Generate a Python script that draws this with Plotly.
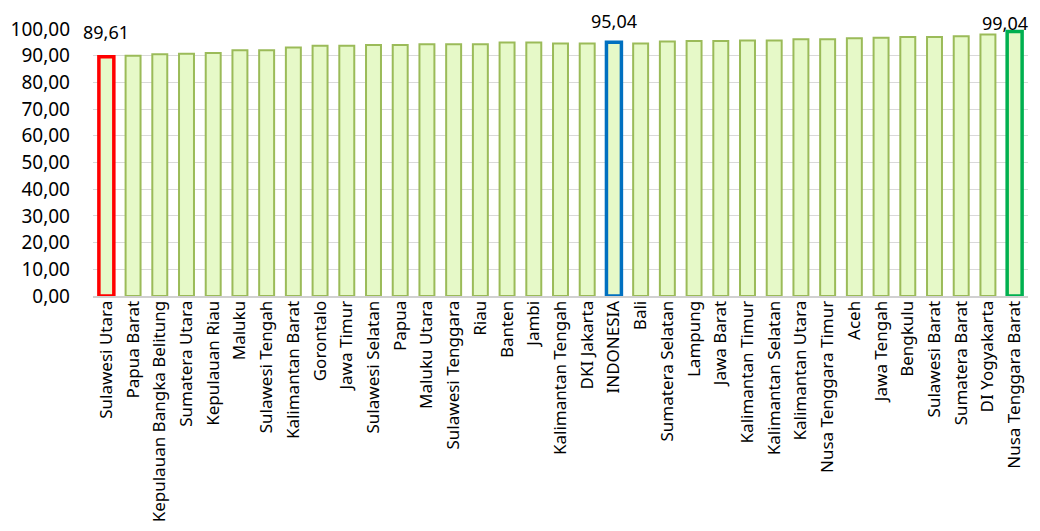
import plotly.graph_objects as go

# --- data ---
provinces = [
    "Sulawesi Utara", "Papua Barat", "Kepulauan Bangka Belitung", "Sumatera Utara",
    "Kepulauan Riau", "Maluku", "Sulawesi Tengah", "Kalimantan Barat", "Gorontalo",
    "Jawa Timur", "Sulawesi Selatan", "Papua", "Maluku Utara", "Sulawesi Tenggara",
    "Riau", "Banten", "Jambi", "Kalimantan Tengah", "DKI Jakarta", "INDONESIA",
    "Bali", "Sumatera Selatan", "Lampung", "Jawa Barat", "Kalimantan Timur",
    "Kalimantan Selatan", "Kalimantan Utara", "Nusa Tenggara Timur", "Aceh",
    "Jawa Tengah", "Bengkulu", "Sulawesi Barat", "Sumatera Barat", "DI Yogyakarta",
    "Nusa Tenggara Barat",
]
values = [
    89.61, 90.0, 90.5, 90.7, 91.0, 92.0, 92.0, 93.1, 93.7,
    93.7, 94.0, 94.0, 94.3, 94.3, 94.3, 94.9, 94.9, 94.6, 94.6, 95.04,
    94.6, 95.3, 95.5, 95.5, 95.7, 95.7, 96.2, 96.2, 96.5,
    96.7, 97.0, 97.0, 97.3, 97.9, 99.04,
]
y_ticks = [0, 10, 20, 30, 40, 50, 60, 70, 80, 90, 100]

# highlighted bars: lowest, national figure, highest -> (outline colour, label lift, label nudge)
highlight = {
    "Sulawesi Utara": ("#ff0000", 11, 0),
    "INDONESIA": ("#0070c0", 7, 0),
    "Nusa Tenggara Barat": ("#00b050", -5, -10),
}

line_colors = [highlight[p][0] if p in highlight else "#9bbb59" for p in provinces]
line_widths = [3.5 if p in highlight else 2 for p in provinces]

fig = go.Figure()
fig.add_trace(go.Bar(
    x=provinces, y=values,
    marker=dict(color="#e6f9c8", line=dict(color=line_colors, width=line_widths)),
    width=0.56,
))

for p, v in zip(provinces, values):
    if p in highlight:
        fig.add_annotation(
            x=p, y=v, text=f"{v:.2f}".replace(".", ","), showarrow=False,
            yanchor="bottom", yshift=highlight[p][1], xshift=highlight[p][2],
            font=dict(size=18, color="#000000"),
        )

# the page body adds an 8px offset, so margins are trimmed accordingly
fig.update_layout(
    width=1040, height=531,
    margin=dict(l=85, r=20, t=21, b=243, autoexpand=False),
    paper_bgcolor="white", plot_bgcolor="white",
    font=dict(family="Noto Sans", color="#000000"),
    showlegend=False,
    separators=",.",
)
fig.update_xaxes(
    range=[-0.5, len(provinces) - 0.5], tickangle=-90,
    tickfont=dict(size=17), showline=True, linecolor="#d0d0d0", linewidth=2,
    showgrid=False, ticks="", ticklabelstandoff=-4,
)
fig.update_yaxes(
    range=[0, 100], tickvals=y_ticks, tickformat=".2f",
    tickfont=dict(size=19), gridcolor="#d9d9d9", gridwidth=1,
    zeroline=False, ticklabelstandoff=22,
)

fig.write_html("out.html")
